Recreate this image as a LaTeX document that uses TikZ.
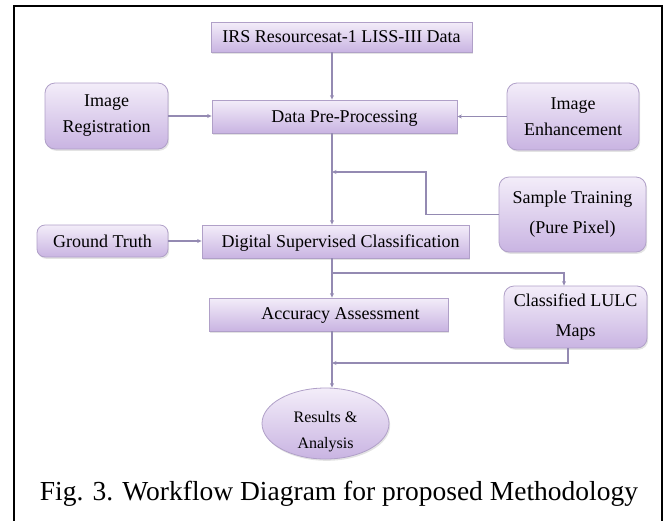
\documentclass[tikz,border=0pt]{standalone}
\usepackage{fontspec}
\setmainfont{Liberation Serif}
\usetikzlibrary{arrows.meta,shapes.geometric,shadows}

\definecolor{boxtop}{RGB}{243,237,249}
\definecolor{boxbot}{RGB}{201,180,226}
\definecolor{boxedge}{RGB}{176,160,200}
\definecolor{flow}{RGB}{148,138,178}

\tikzset{
  boxtext/.style={font=\fontsize{18}{26}\selectfont, align=center},
  procbox/.style={draw=boxedge, line width=0.8pt, top color=boxtop, bottom color=boxbot,
    inner sep=0pt, boxtext,
    drop shadow={shadow xshift=1.2pt, shadow yshift=-1.8pt, opacity=0.22, fill=black!50}},
  sidebox/.style={procbox, rounded corners=10pt},
  flowline/.style={draw=flow, line width=1.2pt, -{Stealth[length=4.5pt,width=4pt]}},
}

\begin{document}
\begin{tikzpicture}[x=1pt, y=-1pt]
  \useasboundingbox (0,0) rectangle (666,520);

  % outer frame, open at the bottom
  \draw[line width=2.2pt] (14,522) -- (14,6) -- (662,6) -- (662,522);

  % x position of the main vertical flow
  \coordinate (spine) at (332,0);

  % central processing chain
  \node[procbox, minimum width=261pt, minimum height=30pt] (irs) at (341.5,37)
    {IRS Resourcesat-1 LISS-III Data};
  \node[procbox, minimum width=245pt, minimum height=33pt,
    label={[boxtext, xshift=10pt, yshift=-1.5pt]center:Data Pre-Processing}] (dpp) at (334.5,116.5) {};
  \node[procbox, minimum width=267pt, minimum height=33pt,
    label={[boxtext, xshift=5pt, yshift=-1.5pt]center:Digital Supervised Classification}] (dsc) at (335.5,241.5) {};
  \node[procbox, minimum width=239pt, minimum height=33pt,
    label={[boxtext, xshift=12pt, yshift=-1pt]center:Accuracy Assessment}] (acc) at (328.5,314.5) {};
  \node[procbox, ellipse, minimum width=127pt, minimum height=71pt,
    label={[font=\fontsize{16}{26}\selectfont, align=center, yshift=-8pt]center:Results \&\\Analysis}]
    (res) at (325.5,423.5) {};

  % side inputs and outputs
  \node[sidebox, minimum width=123pt, minimum height=66pt] (reg) at (106.5,116)
    {Image\\Registration};
  \node[sidebox, minimum width=132pt, minimum height=67pt] (enh) at (573,116.5)
    {Image\\Enhancement};
  \node[sidebox, minimum width=147pt, minimum height=75pt,
    font=\fontsize{18}{30}\selectfont] (train) at (572.5,214.5)
    {Sample Training\\(Pure Pixel)};
  \node[sidebox, rounded corners=8pt, minimum width=131pt, minimum height=32pt] (gt) at (102.5,241)
    {Ground Truth};
  \node[sidebox, minimum width=143pt, minimum height=62pt,
    font=\fontsize{18}{30}\selectfont] (lulc) at (575.5,317)
    {Classified LULC\\Maps};

  % connectors
  \coordinate (fb) at (426,172);
  \coordinate (br) at (332,273);
  \coordinate (mg) at (332,363);

  \draw[flowline] (irs.south -| spine) -- (dpp.north -| spine);
  \draw[flowline] (reg.east) -- (reg.east -| dpp.west);
  \draw[flowline] (enh.west) -- (enh.west -| dpp.east);
  \draw[flowline] (dpp.south -| spine) -- (dsc.north -| spine);
  \draw[flowline] (train.west) -| (fb) -- (fb -| spine);
  \draw[flowline] (gt.east) -- (gt.east -| dsc.west);
  \draw[flowline] (dsc.south -| spine) -- (acc.north -| spine);
  \draw[flowline] (br) -| ([xshift=-11.5pt]lulc.north);
  \draw[flowline] ([xshift=-7.5pt]lulc.south) |- (mg);
  \draw[flowline] (acc.south -| spine) -- (res.north -| spine);

  % caption
  \node[font=\fontsize{27.5}{30}\selectfont, anchor=base] (cap) at (339,500)
    {Fig. 3. Workflow Diagram for proposed Methodology};
\end{tikzpicture}
\end{document}
